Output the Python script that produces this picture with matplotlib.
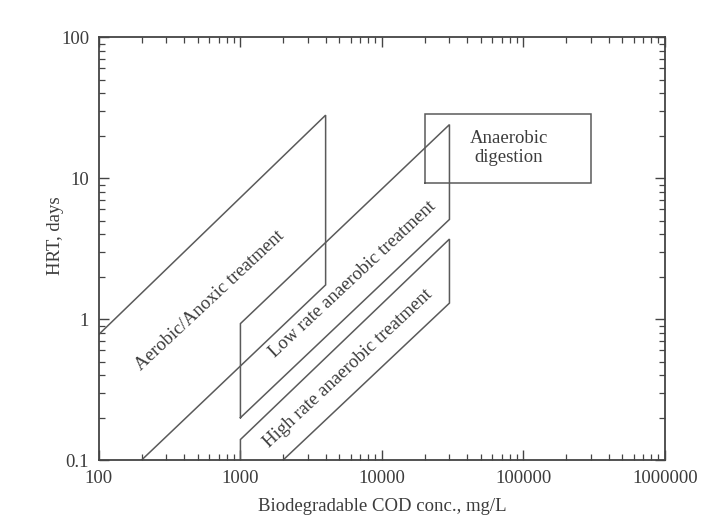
import matplotlib
matplotlib.use("Agg")
import matplotlib.pyplot as plt
from matplotlib.ticker import LogLocator, FuncFormatter, NullFormatter

plt.rcParams['font.family'] = ['Liberation Serif', 'DejaVu Serif']

# Data (COD mg/L, HRT days)
aerobic_x = [100, 4000, 4000, 200]
aerobic_y = [0.78, 28, 1.75, 0.1]

low_rate_x = [1000, 1000, 30000, 30000, 1000]
low_rate_y = [0.2, 0.93, 24, 5.1, 0.2]

high_rate_x = [1000, 1000, 30000, 30000, 2000]
high_rate_y = [0.1, 0.14, 3.7, 1.3, 0.1]

digestion_x = [20000, 20000, 300000, 300000, 20000]
digestion_y = [9.2, 28.5, 28.5, 9.2, 9.2]

labels = ["Aerobic/Anoxic treatment", "Low rate anaerobic treatment",
          "High rate anaerobic treatment", "Anaerobic\ndigestion"]
label_x = [610, 6200, 5800, 79000]
label_y = [1.36, 1.9, 0.45, 16.3]
label_rot = [43, 43, 43, 0]

line_c = '#5a5a5a'
text_c = '#3c3c3c'
fs = 13.5

fig = plt.figure(figsize=(7.22, 5.17), dpi=100)
ax = fig.add_axes([0.137, 0.110, 0.784, 0.818])
ax.set_xscale('log')
ax.set_yscale('log')
ax.set_xlim(100, 1e6)
ax.set_ylim(0.1, 100)

for xs, ys in [(aerobic_x, aerobic_y), (low_rate_x, low_rate_y),
               (high_rate_x, high_rate_y), (digestion_x, digestion_y)]:
    ax.plot(xs, ys, color=line_c, lw=1.1, solid_joinstyle='miter', clip_on=True)

for t, x, y, r in zip(labels, label_x, label_y, label_rot):
    ax.text(x, y, t, rotation=r, ha='center', va='center', fontsize=fs,
            color=text_c, rotation_mode='anchor', linespacing=1.15)

fmt = FuncFormatter(lambda v, p: f'{v:.0f}' if v >= 1 else f'{v:g}')
ax.xaxis.set_major_formatter(fmt)
ax.yaxis.set_major_formatter(fmt)
ax.xaxis.set_minor_formatter(NullFormatter())
ax.yaxis.set_minor_formatter(NullFormatter())
ax.xaxis.set_minor_locator(LogLocator(base=10, subs=range(2, 10)))
ax.yaxis.set_minor_locator(LogLocator(base=10, subs=range(2, 10)))

ax.tick_params(which='both', direction='in', top=True, right=True,
               colors='#444444', labelcolor=text_c, labelsize=fs)
ax.tick_params(which='major', length=7.5, width=1.0)
ax.tick_params(which='minor', length=4.2, width=0.9)
ax.tick_params(axis='x', which='major', pad=7)
ax.tick_params(axis='y', which='major', pad=7)
for s in ax.spines.values():
    s.set_color('#444444')
    s.set_linewidth(1.3)

ax.set_xlabel('Biodegradable COD conc., mg/L', fontsize=fs, color=text_c, labelpad=8)
ax.set_ylabel('HRT, days', fontsize=fs, color=text_c, labelpad=5)
ax.yaxis.set_label_coords(-0.062, 0.53)

fig.savefig('out.png', dpi=100)
